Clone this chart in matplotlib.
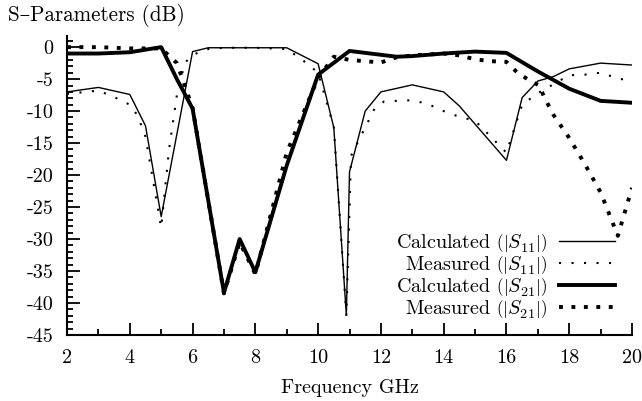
import matplotlib
matplotlib.use("Agg")
import matplotlib.pyplot as plt
from matplotlib.ticker import MultipleLocator

# Calculated |S11|
calc_s11_f = [2, 3, 4, 4.5, 5, 6, 6.5, 9, 10, 10.5, 10.9, 11, 11.5, 12, 13, 14, 14.5, 16, 16.5, 17, 17.5, 18, 19, 20]
calc_s11 = [-7.0, -6.3, -7.4, -12.3, -26.5, -0.7, -0.1, -0.1, -2.6, -12.6, -41.9, -19.5, -10.0, -7.0, -5.9, -7.0, -9.2, -17.7, -7.9, -5.3, -4.6, -3.4, -2.5, -2.8]

# Measured |S11|
meas_s11_f = [2, 3, 3.5, 4, 4.25, 4.5, 5, 5.25, 5.5, 5.75, 6, 6.5, 7, 8, 9, 9.5, 10, 10.5, 10.9, 11.05, 11.2, 11.8, 12.1, 12.5, 13, 13.5, 14, 14.5, 15, 15.5, 16, 16.5, 17, 17.5, 18, 18.5, 19, 19.5, 20]
meas_s11 = [-7.3, -6.8, -7.8, -9.0, -10.7, -14.0, -28.2, -16.0, -7.5, -2.5, -1.2, -0.3, -0.1, -0.1, -0.3, -2.0, -4.0, -12.5, -42.0, -17.0, -15.5, -9.6, -8.5, -8.4, -8.3, -8.9, -10.0, -10.9, -11.5, -14.0, -16.5, -9.0, -7.2, -5.8, -4.4, -4.3, -4.0, -4.8, -5.4]

# Calculated |S21|
calc_s21_f = [2, 3, 4, 5, 5.5, 6, 7, 7.5, 8, 9, 10, 11, 12, 12.5, 13, 13.5, 14, 15, 16, 17, 18, 19, 20]
calc_s21 = [-1.0, -1.0, -0.8, 0.0, -5.0, -9.6, -38.4, -30.0, -35.2, -18.5, -4.3, -0.6, -1.2, -1.5, -1.4, -1.2, -1.0, -0.7, -0.9, -3.8, -6.5, -8.4, -8.7]

# Measured |S21|
meas_s21_f = [2, 3, 4, 5, 5.5, 6, 7, 7.5, 8, 9, 10, 10.5, 11, 11.5, 12, 12.5, 13, 14, 14.5, 15, 15.5, 16, 16.35, 16.8, 17.05, 17.2, 17.5, 18, 18.5, 19, 19.55, 20]
meas_s21 = [0.0, 0.0, -0.2, -0.2, -2.5, -9.5, -38.5, -30.5, -35.5, -16.5, -4.8, -1.5, -2.0, -2.2, -2.4, -1.6, -1.3, -1.0, -1.3, -1.9, -2.2, -2.3, -4.0, -5.4, -6.0, -7.8, -10.6, -14.2, -18.3, -22.7, -29.5, -22.0]

labels = [r"Calculated $\left(\left|S_{11}\right|\right)$",
          r"Measured $\left(\left|S_{11}\right|\right)$",
          r"Calculated $\left(\left|S_{21}\right|\right)$",
          r"Measured $\left(\left|S_{21}\right|\right)$"]

plt.rcParams['font.family'] = ['cmr10', 'DejaVu Serif']
plt.rcParams['mathtext.fontset'] = 'cm'
plt.rcParams['axes.unicode_minus'] = False
plt.rcParams['font.size'] = 14.5

fig = plt.figure(figsize=(6.42, 4.01), dpi=100)
ax = fig.add_axes([0.1044, 0.1646, 0.88, 0.7466])

ax.plot(calc_s11_f, calc_s11, color='black', lw=1.0, label=labels[0])
ax.plot(meas_s11_f, meas_s11, color='black', lw=1.5, linestyle=(0, (1, 5)), label=labels[1])
ax.plot(calc_s21_f, calc_s21, color='black', lw=2.8, label=labels[2])
ax.plot(meas_s21_f, meas_s21, color='black', lw=2.8, linestyle=(0, (1, 2.2)), label=labels[3])

ax.set_xlim(2, 20)
ax.set_ylim(-45, 1.8)
ax.xaxis.set_major_locator(MultipleLocator(2))
ax.xaxis.set_minor_locator(MultipleLocator(1))
ax.yaxis.set_major_locator(MultipleLocator(5))
ax.yaxis.set_minor_locator(MultipleLocator(1))
ax.set_yticks(range(-45, 1, 5))

for s in ['top', 'right']:
    ax.spines[s].set_visible(False)
for s in ['left', 'bottom']:
    ax.spines[s].set_linewidth(1.5)
ax.tick_params(which='major', direction='in', length=9, width=1.3, pad=10)
ax.tick_params(which='minor', direction='in', length=4.5, width=1.3)

ax.set_xlabel("Frequency GHz", labelpad=9)
fig.text(0.012, 0.962, "S–Parameters (dB)", ha='left', va='center', fontsize=15.2)

ax.legend(loc='lower right', bbox_to_anchor=(0.987, 0.017), frameon=False,
          markerfirst=False, handlelength=2.75, handletextpad=0.6,
          labelspacing=0.0, borderpad=0)

fig.savefig("out.png", dpi=100)
